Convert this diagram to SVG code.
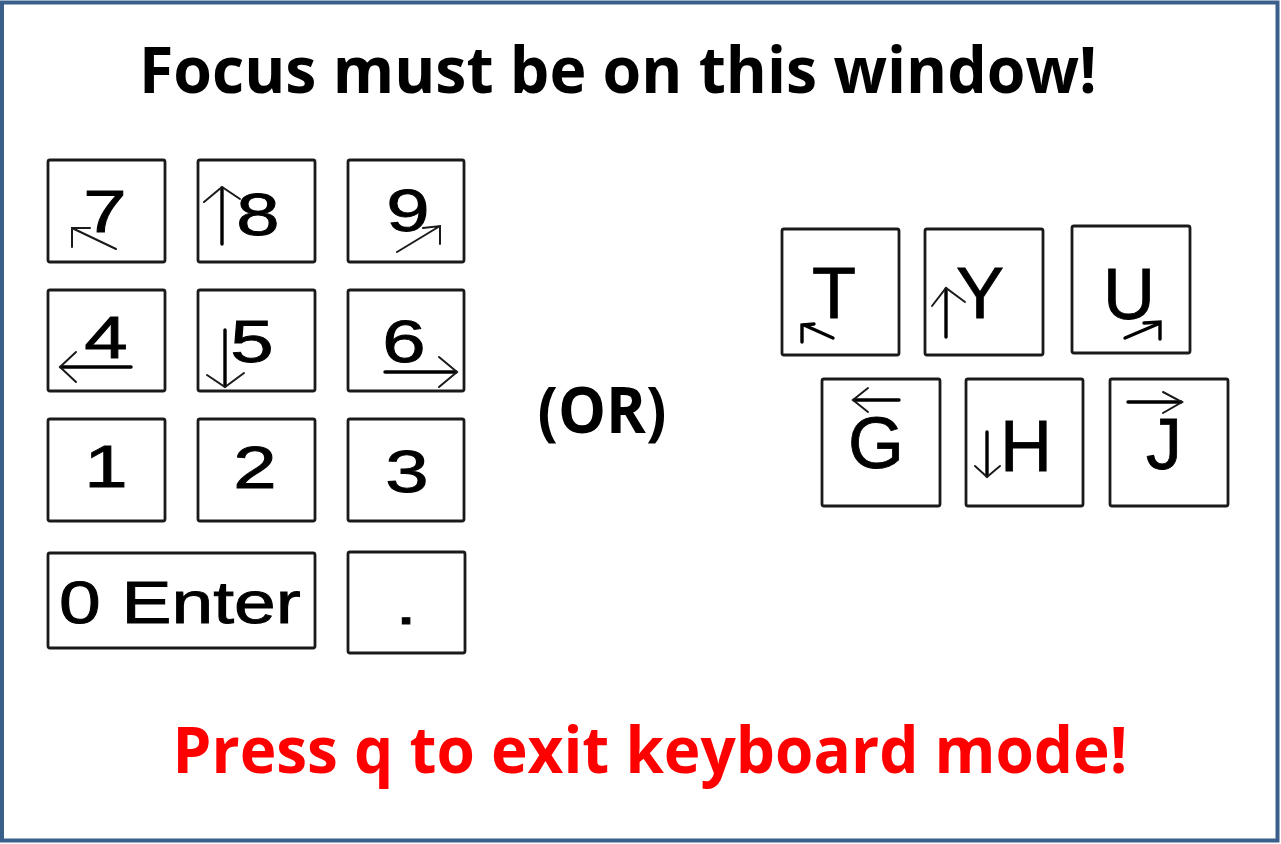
<svg xmlns="http://www.w3.org/2000/svg" width="1281" height="844" viewBox="0 0 1281 844">
<style>
.key{fill:#fff;stroke:#1a1a1a;stroke-width:2.8}
.kt{font-family:"Liberation Sans",Arial,sans-serif;font-size:60px;fill:#000;stroke:#000;stroke-width:0.9;text-anchor:middle}
.kr{font-family:"Liberation Sans",Arial,sans-serif;font-size:72px;fill:#000;stroke:#000;stroke-width:0.8;text-anchor:middle}
.thin{fill:none;stroke:#1a1a1a;stroke-width:2;stroke-linecap:round}
.thick{fill:none;stroke:#000;stroke-width:3.4;stroke-linecap:round}
.big{font-family:"Open Sans","Noto Sans",sans-serif;font-weight:bold;font-size:64px;text-anchor:middle}
</style>
<rect x="2" y="2.5" width="1275.5" height="838" fill="#fff" stroke="#3a5f8a" stroke-width="4"/>
<g id="title"><text class="big" x="618" y="93" fill="#000" textLength="958" lengthAdjust="spacingAndGlyphs">Focus must be on this window!</text></g>

<g id="key7"><rect class="key" x="48" y="160" width="117" height="102" rx="2"/>
<text class="kt" transform="translate(105,232) scale(1.3,1)">7</text>
<path class="thin" d="M116,249 L72,228 M72,247 L72,228 L90,228"/></g>
<g id="key8"><rect class="key" x="198" y="160" width="117" height="102" rx="2"/>
<text class="kt" transform="translate(258,235) scale(1.3,1)">8</text>
<path class="thick" d="M222,244 L222,188"/><path class="thin" d="M204,202 L222,187 L240,199"/></g>
<g id="key9"><rect class="key" x="348" y="160" width="116" height="102" rx="2"/>
<text class="kt" transform="translate(408,231) scale(1.3,1)">9</text>
<path class="thin" d="M397,252 L440,226 M423,228 L440,226 L440,244"/></g>

<g id="key4"><rect class="key" x="48" y="290" width="117" height="101" rx="2"/>
<text class="kt" transform="translate(106,358) scale(1.3,1)">4</text>
<path class="thick" d="M131,367 L61,367"/><path class="thin" d="M76,352 L60,367 L76,382"/></g>
<g id="key5"><rect class="key" x="198" y="290" width="117" height="101" rx="2"/>
<text class="kt" transform="translate(252,362) scale(1.3,1)">5</text>
<path class="thick" d="M225,330 L225,386"/><path class="thin" d="M207,375 L225,387 L244,373"/></g>
<g id="key6"><rect class="key" x="348" y="290" width="116" height="101" rx="2"/>
<text class="kt" transform="translate(404,362) scale(1.3,1)">6</text>
<path class="thick" d="M385,372 L456,372"/><path class="thin" d="M439,357 L457,372 L439,387"/></g>

<g id="key1"><rect class="key" x="48" y="419" width="117" height="102" rx="2"/>
<text class="kt" transform="translate(106,487) scale(1.3,1)">1</text></g>
<g id="key2"><rect class="key" x="198" y="419" width="117" height="102" rx="2"/>
<text class="kt" transform="translate(255,488) scale(1.3,1)">2</text></g>
<g id="key3"><rect class="key" x="348" y="419" width="116" height="102" rx="2"/>
<text class="kt" transform="translate(407,492) scale(1.3,1)">3</text></g>

<g id="key0"><rect class="key" x="48" y="553" width="267" height="95" rx="2"/>
<text class="kt" style="text-anchor:start" transform="translate(59,623) scale(1.25,1)">0 Enter</text></g>
<g id="keydot"><rect class="key" x="348" y="552" width="117" height="101" rx="2"/>
<text class="kt" transform="translate(406,624) scale(1.3,1)">.</text></g>

<g id="or"><text class="big" x="602" y="433" fill="#000" textLength="129" lengthAdjust="spacingAndGlyphs">(OR)</text></g>

<g id="keyT"><rect class="key" x="782" y="229" width="117" height="126" rx="2"/>
<text class="kr" x="834" y="318">T</text>
<path class="thick" d="M833,338 L804,325"/><path class="thick" d="M802,342 L802,325 L814,324"/></g>
<g id="keyY"><rect class="key" x="925" y="229" width="118" height="126" rx="2"/>
<text class="kr" x="980" y="318">Y</text>
<path class="thick" d="M946,337 L946,289"/><path class="thin" d="M932,306 L946,288 L965,302"/></g>
<g id="keyU"><rect class="key" x="1072" y="226" width="118" height="127" rx="2"/>
<text class="kr" x="1129" y="319">U</text>
<path class="thick" d="M1125,338 L1158,324"/><path class="thick" d="M1144,323 L1160,322 L1160,339"/></g>

<g id="keyG"><rect class="key" x="822" y="379" width="118" height="127" rx="2"/>
<text class="kr" x="876" y="468">G</text>
<path class="thick" d="M899,400 L854,400"/><path class="thin" d="M868,388 L853,400 L868,412"/></g>
<g id="keyH"><rect class="key" x="966" y="379" width="117" height="127" rx="2"/>
<text class="kr" x="1026" y="471">H</text>
<path class="thick" d="M987,432 L987,476"/><path class="thin" d="M975,466 L987,477 L1000,466"/></g>
<g id="keyJ"><rect class="key" x="1110" y="379" width="118" height="127" rx="2"/>
<text class="kr" x="1164" y="469">J</text>
<path class="thick" d="M1128,402 L1181,402"/><path class="thin" d="M1163,392 L1182,402 L1163,413"/></g>

<g id="footer"><text class="big" x="650" y="773" fill="#ff0000" textLength="955" lengthAdjust="spacingAndGlyphs">Press q to exit keyboard mode!</text></g>
</svg>
